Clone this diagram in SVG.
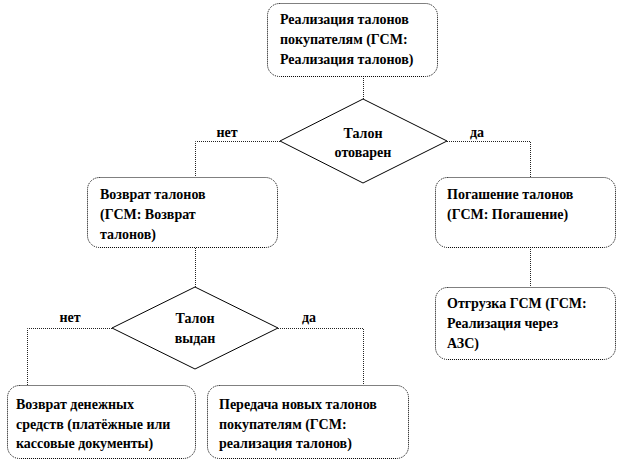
<svg xmlns="http://www.w3.org/2000/svg" width="618" height="471" viewBox="0 0 618 471">
<style>
.box{fill:#fff;stroke:#000;stroke-width:1;stroke-dasharray:1 1}
.dia{fill:#fff;stroke:#000;stroke-width:1}
.con{fill:none;stroke:#222;stroke-width:1;stroke-dasharray:1 1}
text{font-family:Times New Roman, Liberation Serif, Tinos, DejaVu Serif, serif;font-weight:bold;font-size:14px;fill:#000}
.c{text-anchor:middle}
</style>
<rect width="618" height="471" fill="#fff"/>
<g id="connectors">
<path class="con" d="M363.5 76 V99"/>
<path class="con" d="M280 141.5 H195.5 V177"/>
<path class="con" d="M447 141.5 H530.5 V177"/>
<path class="con" d="M530.5 247 V287"/>
<path class="con" d="M195.5 248 V287"/>
<path class="con" d="M112 328.5 H27.5 V385"/>
<path class="con" d="M278 328.5 H363.5 V385"/>
</g>
<g id="n1">
<rect class="box" x="267.5" y="3.5" width="170" height="73" rx="12"/>
<text x="280" y="24">Реализация талонов</text>
<text x="280" y="44">покупателям  (ГСМ:</text>
<text x="280" y="64">Реализация талонов)</text>
</g>
<g id="d1">
<polygon class="dia" points="363,99 447,141 363,183 280,141"/>
<text class="c" x="363" y="138">Талон</text>
<text class="c" x="363" y="157">отоварен</text>
</g>
<text class="c" x="227" y="137">нет</text>
<text class="c" x="477" y="137">да</text>
<g id="n2">
<rect class="box" x="87.5" y="177.5" width="190" height="70" rx="12"/>
<text x="100" y="199">Возврат талонов</text>
<text x="100" y="219">(ГСМ: Возврат</text>
<text x="100" y="239">талонов)</text>
</g>
<g id="n3">
<rect class="box" x="435.5" y="177.5" width="180" height="70" rx="12"/>
<text x="447" y="199">Погашение талонов</text>
<text x="447" y="219">(ГСМ: Погашение)</text>
</g>
<g id="n4">
<rect class="box" x="435.5" y="287.5" width="180" height="72" rx="12"/>
<text x="447" y="308">Отгрузка ГСМ (ГСМ:</text>
<text x="447" y="328">Реализация через</text>
<text x="447" y="348">АЗС)</text>
</g>
<g id="d2">
<polygon class="dia" points="195,287 278,328 195,369 112,328"/>
<text class="c" x="195" y="323">Талон</text>
<text class="c" x="195" y="343">выдан</text>
</g>
<text class="c" x="70" y="322">нет</text>
<text class="c" x="309" y="322">да</text>
<g id="n5">
<rect class="box" x="7.5" y="385.5" width="188" height="73" rx="12"/>
<text x="16" y="409">Возврат денежных</text>
<text x="16" y="429">средств (платёжные или</text>
<text x="16" y="448">кассовые документы)</text>
</g>
<g id="n6">
<rect class="box" x="207.5" y="385.5" width="201" height="73" rx="12"/>
<text x="219" y="409">Передача новых талонов</text>
<text x="219" y="429">покупателям  (ГСМ:</text>
<text x="219" y="448">реализация талонов)</text>
</g>
</svg>
